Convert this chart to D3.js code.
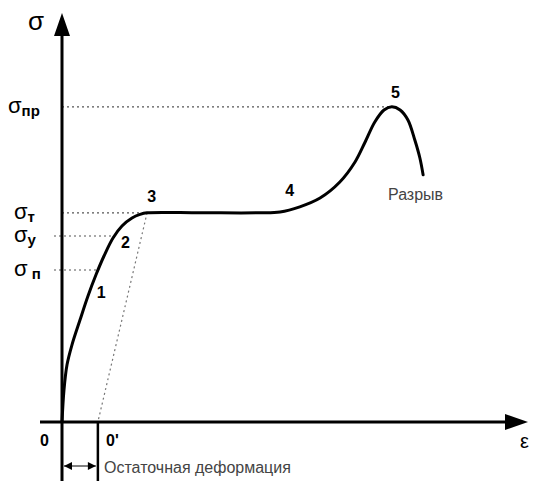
<!DOCTYPE html>
<html>
<head>
<meta charset="utf-8">
<script src="https://cdn.jsdelivr.net/npm/d3@7"></script>
<style>
  body { margin: 0; background: #fff; }
  text { font-family: Arial, "Liberation Sans", sans-serif; }
</style>
</head>
<body>
<svg id="chart" width="533" height="481"></svg>
<script>
// strain / stress curve
var strain = [0, 0.43, 1.09, 2.17, 3.91, 5.65, 7.39, 9.13, 11.09, 13.04, 15.22, 16.96, 18.5, 30, 43, 47.4, 51.7, 56.1, 60.4, 63.7, 65.9, 68, 70, 71.7, 73.5, 75.2, 76.7, 77.8, 78.5];
var stress = [0, 8, 14.3, 19.3, 25.5, 31.5, 36.8, 41.5, 46, 49, 51, 51.9, 52.3, 52.3, 52.3, 52.5, 53.8, 56, 60, 65, 70, 75, 78, 78.8, 78, 75.5, 70.5, 66, 61.8];

// stress levels
var levelNames = ["пр", "т", "у", "п"];
var levelValues = [78.8, 52.3, 46.5, 38];
var levelEnds = [71.7, 18.5, 11.3, 7.8];

// numbered points
var pointLabels = ["1", "2", "3", "4", "5"];
var pointStrain = [8.5, 13.8, 19.5, 49.5, 72.5];
var pointStress = [31, 43.5, 55, 56.5, 81];

var residual = 7.8; // 0'

var svg = d3.select("#chart");
var x = d3.scaleLinear().domain([0, 100]).range([62, 522]);
var y = d3.scaleLinear().domain([0, 100]).range([422, 22]);

// dotted guides
levelValues.forEach(function(v, i) {
  svg.append("line")
    .attr("x1", x(0) - (i >= 2 ? 8 : 0)).attr("x2", x(levelEnds[i]))
    .attr("y1", y(v)).attr("y2", y(v))
    .attr("stroke", "#555").attr("stroke-width", 1.2)
    .attr("stroke-dasharray", "2,3");
});
svg.append("line")
  .attr("x1", x(18.5)).attr("y1", y(52.3))
  .attr("x2", x(residual)).attr("y2", y(0))
  .attr("stroke", "#777").attr("stroke-width", 1.2)
  .attr("stroke-dasharray", "2,3");

// axes
svg.append("line")
  .attr("x1", x(0)).attr("x2", x(0))
  .attr("y1", 481).attr("y2", 32)
  .attr("stroke", "#000").attr("stroke-width", 3);
svg.append("path")
  .attr("d", "M" + x(0) + ",13 L" + (x(0) - 8) + ",36 L" + (x(0) + 8) + ",36 Z")
  .attr("fill", "#000");
svg.append("line")
  .attr("x1", 40).attr("x2", 510)
  .attr("y1", y(0)).attr("y2", y(0))
  .attr("stroke", "#000").attr("stroke-width", 3);
svg.append("path")
  .attr("d", "M528," + y(0) + " L505," + (y(0) - 8) + " L505," + (y(0) + 8) + " Z")
  .attr("fill", "#000");

// 0' marker line
svg.append("line")
  .attr("x1", x(residual)).attr("x2", x(residual))
  .attr("y1", y(0)).attr("y2", 481)
  .attr("stroke", "#000").attr("stroke-width", 2.5);

// double arrow
var ay = 466;
svg.append("line")
  .attr("x1", x(0) + 2).attr("x2", x(residual) - 2)
  .attr("y1", ay).attr("y2", ay)
  .attr("stroke", "#000").attr("stroke-width", 1);
svg.append("path")
  .attr("d", "M" + (x(0) + 2) + "," + ay + " l8,-4 l0,8 Z M" + (x(residual) - 2) + "," + ay + " l-8,-4 l0,8 Z")
  .attr("fill", "#000");
svg.append("text")
  .attr("x", 104).attr("y", 473)
  .attr("font-size", 16).attr("fill", "#444")
  .text("Остаточная деформация");

// curve
var pts = strain.map(function(d, i) { return [d, stress[i]]; });
svg.append("path")
  .datum(pts)
  .attr("fill", "none").attr("stroke", "#000").attr("stroke-width", 3)
  .attr("stroke-linejoin", "round").attr("stroke-linecap", "round")
  .attr("d", d3.line().x(function(d) { return x(d[0]); }).y(function(d) { return y(d[1]); }).curve(d3.curveCatmullRom));

// point numbers
pointLabels.forEach(function(t, i) {
  svg.append("text")
    .attr("x", x(pointStrain[i])).attr("y", y(pointStress[i]))
    .attr("text-anchor", "middle")
    .attr("font-size", 16).attr("font-weight", "bold")
    .text(t);
});

// sigma labels
function sigma(px, py, sub, size) {
  var t = svg.append("text").attr("x", px).attr("y", py).attr("font-size", size);
  t.append("tspan").text("σ");
  if (sub) t.append("tspan").attr("font-size", 15).attr("font-weight", "bold").attr("dy", 3).text(sub);
}
sigma(28, 30, null, 26);
levelNames.forEach(function(n, i) {
  sigma(n === "пр" ? 8 : 14, y(levelValues[i]) + 6, (n === "п" ? " " : "") + n, 22);
});

// misc text
svg.append("text").attr("x", 40).attr("y", 446).attr("font-size", 16).attr("font-weight", "bold").text("0");
svg.append("text").attr("x", 106).attr("y", 446).attr("font-size", 16).attr("font-weight", "bold").text("0'");
svg.append("text").attr("x", 520).attr("y", 448).attr("font-size", 20).text("ε");
svg.append("text").attr("x", 388).attr("y", 200).attr("font-size", 16).attr("fill", "#444").text("Разрыв");
</script>
</body>
</html>
